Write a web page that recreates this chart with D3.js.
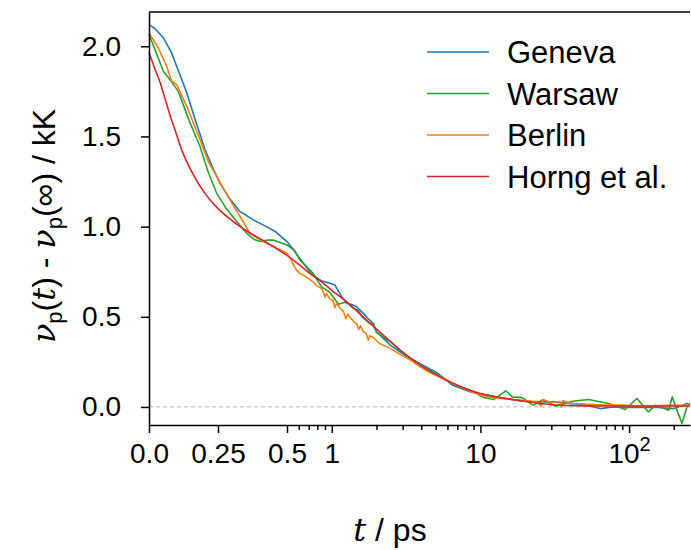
<!DOCTYPE html>
<html>
<head>
<meta charset="utf-8">
<script src="https://cdn.jsdelivr.net/npm/d3@7"></script>
<style>
  body { margin: 0; background: #fff; }
  svg text { font-family: "Liberation Sans", Arial, sans-serif; fill: #000; }
</style>
</head>
<body>
<div id="chart"></div>
<script>
// series: [t (ps), value (kK)]
const geneva = [
  [0, 2.12], [0.02, 2.10], [0.052, 2.047], [0.082, 1.963], [0.11, 1.85], [0.137, 1.741],
  [0.17, 1.58], [0.203, 1.426], [0.23, 1.33], [0.257, 1.241], [0.29, 1.16], [0.33, 1.083],
  [0.355, 1.06], [0.378, 1.037], [0.426, 1.0], [0.46, 0.97], [0.5, 0.917], [0.55, 0.875],
  [0.61, 0.824], [0.68, 0.77], [0.75, 0.73], [0.85, 0.70], [0.974, 0.686], [1.05, 0.676],
  [1.15, 0.62], [1.26, 0.574], [1.35, 0.57], [1.47, 0.556], [1.63, 0.519], [1.78, 0.485],
  [1.86, 0.472], [2.0, 0.417], [2.5, 0.34], [3.0, 0.295], [3.54, 0.26], [3.93, 0.24],
  [5.1, 0.19], [6.5, 0.12], [8.6, 0.083], [11.3, 0.065], [14.8, 0.047], [18, 0.035],
  [22.6, 0.028], [32, 0.028], [40, 0.02], [50, 0.012], [58, 0.0], [64, -0.009], [78, 0.0],
  [95, -0.002], [112, -0.003], [150, -0.002], [198, -0.009], [225, 0.005], [244, 0.019], [257, 0.015]
];
const warsaw = [
  [0, 2.065], [0.022, 1.98], [0.052, 1.861], [0.076, 1.815], [0.106, 1.75], [0.149, 1.574],
  [0.185, 1.444], [0.215, 1.30], [0.245, 1.186], [0.28, 1.10], [0.318, 1.028], [0.354, 0.963],
  [0.38, 0.93], [0.402, 0.917], [0.43, 0.925], [0.45, 0.926], [0.5, 0.898], [0.56, 0.87],
  [0.61, 0.815], [0.64, 0.80], [0.75, 0.741], [0.85, 0.667], [0.97, 0.635], [1.11, 0.57],
  [1.26, 0.583], [1.38, 0.55], [1.5, 0.537], [1.6, 0.50], [1.8, 0.463], [1.91, 0.463],
  [2.0, 0.412], [2.5, 0.36], [3.0, 0.30], [3.93, 0.232], [5.1, 0.18], [6.5, 0.13],
  [8.6, 0.093], [10.5, 0.052], [12.3, 0.041], [14.8, 0.089], [16.4, 0.056], [19.1, 0.052],
  [22.6, 0.009], [26.4, 0.041], [32, 0.004], [41.5, 0.032], [53.5, 0.041], [73, 0.019],
  [94, -0.014], [113, 0.047], [135, -0.028], [150, 0.009], [185, -0.018], [195, 0.056],
  [227, -0.092], [245, 0.0], [257, 0.019]
];
const berlin = [
  [0, 2.074], [0.034, 1.99], [0.064, 1.889], [0.082, 1.806], [0.1, 1.787], [0.137, 1.667],
  [0.185, 1.482], [0.215, 1.36], [0.245, 1.278], [0.293, 1.148], [0.33, 1.056], [0.366, 0.963],
  [0.414, 0.917], [0.45, 0.889], [0.5, 0.852], [0.53, 0.82], [0.56, 0.78], [0.58, 0.759],
  [0.61, 0.74], [0.64, 0.732], [0.7, 0.71], [0.75, 0.694], [0.8, 0.67], [0.86, 0.655],
  [0.9, 0.61], [0.92, 0.63], [0.97, 0.60], [1.02, 0.59], [1.05, 0.55], [1.08, 0.575],
  [1.14, 0.547], [1.2, 0.53], [1.24, 0.49], [1.28, 0.515], [1.35, 0.49], [1.42, 0.47],
  [1.47, 0.463], [1.52, 0.43], [1.56, 0.45], [1.63, 0.417], [1.7, 0.41], [1.76, 0.37],
  [1.8, 0.395], [1.9, 0.385], [2.1, 0.352], [2.47, 0.325], [2.8, 0.297], [3.54, 0.25],
  [3.93, 0.222], [4.6, 0.19], [5.36, 0.165], [6.5, 0.13], [8.6, 0.085], [11.3, 0.056],
  [15, 0.045], [19, 0.037], [24, 0.03], [25.5, 0.005], [26.5, 0.04], [30, 0.025], [34, 0.03],
  [35, 0.0], [36, 0.035], [40, 0.02], [53, 0.015], [70, 0.01], [90, 0.01], [120, 0.005],
  [160, 0.008], [200, 0.01], [230, 0.008], [257, 0.012]
];
const horng = [
  [0, 1.965], [0.02, 1.88], [0.04, 1.80], [0.06, 1.70], [0.08, 1.60], [0.1, 1.51], [0.12, 1.42],
  [0.16, 1.29], [0.2, 1.19], [0.25, 1.10], [0.3, 1.035], [0.35, 0.98], [0.4, 0.935], [0.45, 0.89],
  [0.5, 0.84], [0.6, 0.79], [0.7, 0.745], [0.85, 0.695], [1.0, 0.647], [1.26, 0.583], [1.6, 0.505],
  [2.0, 0.432], [2.47, 0.365], [3.0, 0.305], [3.93, 0.232], [5.36, 0.167], [6.6, 0.13], [8.0, 0.10],
  [10, 0.075], [14, 0.05], [18.5, 0.035], [25, 0.02], [31, 0.012], [50, 0.006], [100, 0.005], [257, 0.005]
];

const seriesNames = ["Geneva", "Warsaw", "Berlin", "Horng et al."];
const seriesColors = ["#1f77b4", "#2ca02c", "#ff7f0e", "#d62728"];
const seriesData = [geneva, warsaw, berlin, horng];

const yTicks = [0, 0.5, 1.0, 1.5, 2.0];
const xLinTicks = [0, 0.25, 0.5];
const xLogTicks = [1, 10, 100];
const xMinorTicks = [0.6, 0.7, 0.8, 0.9, 2, 3, 4, 5, 6, 7, 8, 9, 20, 30, 40, 50, 60, 70, 80, 90, 200];

const width = 691, height = 550;
const margin = { top: 12, right: 1, bottom: 125, left: 149 };

const svg = d3.select("#chart").append("svg")
  .attr("width", width)
  .attr("height", height);

// x: linear up to 0.5 ps, log after that
const xLin = d3.scaleLinear().domain([0, 0.5]).range([margin.left, 287]);
const xLog = d3.scaleLog().domain([0.5, 257]).range([287, width - margin.right]);
const x = t => t <= 0.5 ? xLin(t) : xLog(t);

const y = d3.scaleLinear()
  .domain([-0.1, 2.19])
  .range([height - margin.bottom, margin.top]);

// zero reference line
svg.append("line")
  .attr("x1", margin.left).attr("x2", width - margin.right)
  .attr("y1", y(0)).attr("y2", y(0))
  .attr("stroke", "#c4c4c4")
  .attr("stroke-width", 1.2)
  .attr("stroke-dasharray", "4,3");

// lines
const line = d3.line()
  .x(d => x(d[0]))
  .y(d => y(d[1]));

seriesData.forEach((data, i) => {
  svg.append("path")
    .datum(data)
    .attr("fill", "none")
    .attr("stroke", seriesColors[i])
    .attr("stroke-width", 1.6)
    .attr("stroke-linejoin", "round")
    .attr("d", i === 3 ? line.curve(d3.curveMonotoneX)(data) : line.curve(d3.curveLinear)(data));
});

// axes
const fontSize = 28;
const yAxis = svg.append("g")
  .attr("transform", `translate(${margin.left},0)`)
  .call(d3.axisLeft(y).tickValues(yTicks).tickFormat(d3.format(".1f"))
    .tickSize(8).tickPadding(20).tickSizeOuter(0));

const xAxisLin = svg.append("g")
  .attr("transform", `translate(0,${height - margin.bottom})`)
  .call(d3.axisBottom(xLin).tickValues(xLinTicks)
    .tickFormat(d => d === 0 ? "0.0" : String(d))
    .tickSize(8).tickPadding(10).tickSizeOuter(0));

const xAxisLog = svg.append("g")
  .attr("transform", `translate(0,${height - margin.bottom})`)
  .call(d3.axisBottom(xLog).tickValues(xLogTicks)
    .tickFormat(d => d === 100 ? "" : String(d))
    .tickSize(8).tickPadding(10).tickSizeOuter(0));

svg.append("g")
  .attr("transform", `translate(0,${height - margin.bottom})`)
  .call(d3.axisBottom(xLog).tickValues(xMinorTicks).tickFormat("")
    .tickSize(5).tickSizeOuter(0))
  .select(".domain").remove();

svg.selectAll(".tick line, .domain")
  .attr("stroke", "#000")
  .attr("stroke-width", 1.5);
svg.selectAll(".tick text")
  .attr("font-family", "Liberation Sans, Arial, sans-serif")
  .attr("font-size", fontSize)
  .attr("fill", "#000");

// 10^2 label
const sup = xAxisLog.selectAll(".tick text").filter(d => d === 100);
sup.append("tspan").text("10");
sup.append("tspan").attr("dy", -12).attr("font-size", 20).text("2");

// top spine
svg.append("line")
  .attr("x1", margin.left).attr("x2", width - margin.right)
  .attr("y1", margin.top).attr("y2", margin.top)
  .attr("stroke", "#000").attr("stroke-width", 1.5);

// axis labels
const xl = svg.append("text")
  .attr("x", 390).attr("y", 541)
  .attr("text-anchor", "middle")
  .attr("font-size", 32);
xl.append("tspan").attr("font-family", "DejaVu Serif").attr("font-style", "italic").text("t");
xl.append("tspan").text(" / ps");

const yl = svg.append("text")
  .attr("transform", "translate(55,226) rotate(-90)")
  .attr("text-anchor", "middle")
  .attr("font-size", 32);
const nu = () => yl.append("tspan").attr("font-family", "DejaVu Serif").attr("font-style", "italic").text("ν");
nu();
yl.append("tspan").attr("dy", 7).attr("font-size", 22).text("p");
yl.append("tspan").attr("dy", -7).text("(");
yl.append("tspan").attr("font-family", "DejaVu Serif").attr("font-style", "italic").text("t");
yl.append("tspan").text(") - ");
nu();
yl.append("tspan").attr("dy", 7).attr("font-size", 22).text("p");
yl.append("tspan").attr("dy", -7).text("(∞) / kK");

// legend
const legend = svg.append("g");
seriesNames.forEach((name, i) => {
  const ly = 52 + i * 41.5;
  legend.append("line")
    .attr("x1", 427).attr("x2", 489)
    .attr("y1", ly).attr("y2", ly)
    .attr("stroke", seriesColors[i])
    .attr("stroke-width", 1.6);
  legend.append("text")
    .attr("x", 507).attr("y", ly)
    .attr("dy", "0.36em")
    .attr("font-size", 31)
    .text(name);
});
</script>
</body>
</html>
